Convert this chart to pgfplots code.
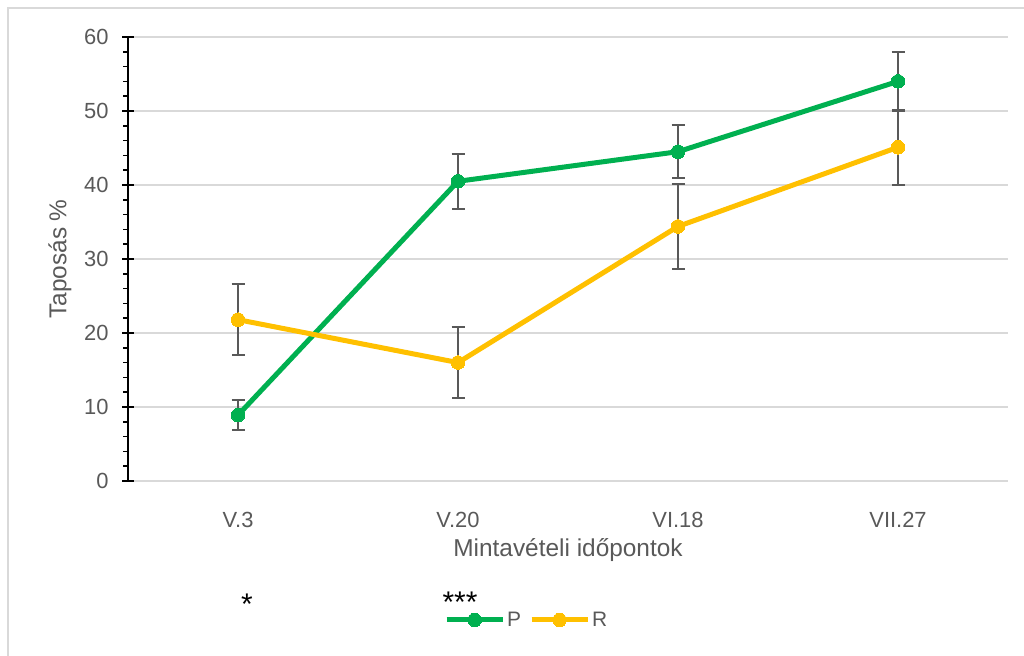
\documentclass[border=0pt]{standalone}
\usepackage{pgfplots}
\pgfplotsset{compat=1.18}
\usepackage{fontspec}
\setmainfont{Liberation Sans}
\definecolor{pgreen}{HTML}{00B050}
\definecolor{ryellow}{HTML}{FFC000}
\definecolor{txtgray}{HTML}{595959}
\definecolor{gridgray}{HTML}{D9D9D9}
\definecolor{errgray}{HTML}{595959}

\begin{document}
\begin{tikzpicture}[x=1bp,y=1bp]
\useasboundingbox (0,0) rectangle (1024,656);
% outer frame
\draw[gridgray, line width=2bp] (8,0) -- (8,648) -- (1024,648);
\begin{axis}[
  at={(128bp,175bp)}, anchor=south west,
  scale only axis, width=880bp, height=444bp,
  xmin=-0.5, xmax=3.5, ymin=0, ymax=60,
  xtick={0,1,2,3}, xticklabels={V.3,V.20,VI.18,VII.27},
  ytick={0,10,...,60}, minor y tick num=4,
  axis y line*=left, axis x line*=bottom,
  x axis line style={draw=none},
  major x tick style={draw=none},
  y axis line style={black, line width=2bp},
  ymajorgrids, grid style={gridgray, line width=1.5bp},
  tick align=center,
  major tick length=12bp, minor tick length=5bp,
  major y tick style={black, line width=1.6bp},
  minor y tick style={black, line width=1.6bp, xshift=-2.5bp},
  /pgf/number format/assume math mode=true,
  ticklabel style={txtgray, font=\fontsize{22}{26}\selectfont},
  yticklabel style={anchor=east, xshift=-10bp},
  xticklabel style={anchor=base, yshift=-41bp},
  xlabel={Mintavételi időpontok}, ylabel={Taposás \%},
  label style={txtgray, font=\fontsize{24.5}{29}\selectfont},
  xlabel style={at={(axis description cs:0.5,0)}, anchor=center, yshift=-69bp},
  ylabel style={at={(axis description cs:-0.0773,0.5)}, anchor=center},
  legend style={at={(axis description cs:0.453,-0.313)}, anchor=center,
    draw=none, fill=none, text=txtgray, font=\fontsize{21}{25}\selectfont,
    legend columns=2, /tikz/every even column/.append style={column sep=6bp}},
  legend image code/.code={\draw[mark repeat=2,mark phase=2,#1]
    plot coordinates {(0bp,0bp) (28bp,0bp) (56bp,0bp)};},
  every axis plot/.append style={line width=5bp, mark=*, mark size=6.8bp, line join=round},
  error bars/y dir=both, error bars/y explicit,
  error bars/error bar style={errgray, line width=2bp},
  error bars/error mark options={rotate=90, errgray, mark size=6.5bp, line width=2bp},
]
\addplot[pgreen, mark options={fill=pgreen, draw=pgreen, line width=0bp}]
  table[x=x, y=y, y error=e] {
x y e
0 8.9 2.0
1 40.5 3.7
2 44.5 3.6
3 54.0 4.0
};
\addlegendentry{P}
\addplot[ryellow, mark options={fill=ryellow, draw=ryellow, line width=0bp}]
  table[x=x, y=y, y error=e] {
x y e
0 21.8 4.8
1 16.0 4.85
2 34.4 5.8
3 45.1 5.1
};
\addlegendentry{R}
\end{axis}
\node[font=\fontsize{30}{34}\selectfont, anchor=center] at (247,52) {*};
\node[font=\fontsize{30}{34}\selectfont, anchor=center] at (460,54) {***};
\end{tikzpicture}
\end{document}
